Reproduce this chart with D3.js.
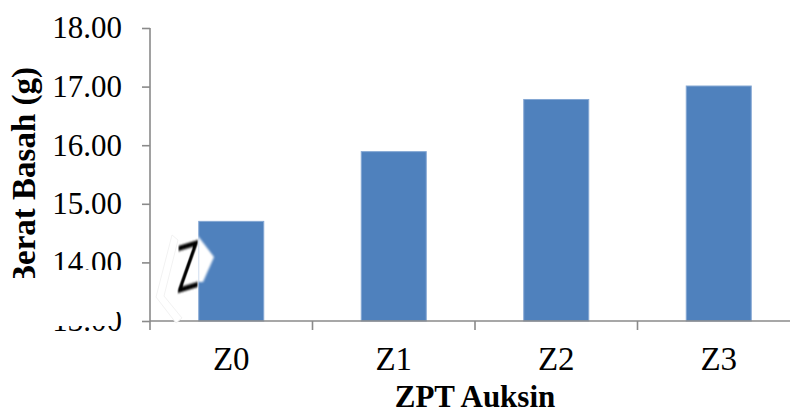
<!DOCTYPE html>
<html>
<head>
<meta charset="utf-8">
<script src="https://cdn.jsdelivr.net/npm/d3@7/dist/d3.min.js"></script>
<style>
  html, body { margin: 0; padding: 0; background: #fff; }
  svg { display: block; }
</style>
</head>
<body>
<svg id="chart" width="790" height="415"></svg>
<script>
// Fresh weight per auxin treatment
const categories = ["Z0", "Z1", "Z2", "Z3"];
const beratBasah = [14.70, 15.89, 16.78, 17.01];
const yTicks = [13, 14, 15, 16, 17, 18];
const yTitle = "Berat Basah (g)";
const xTitle = "ZPT Auksin";

const svg = d3.select("#chart");
const serif = "'Liberation Serif', 'Times New Roman', serif";
const axisColor = "#8a8a8a";

const plot = { left: 150, right: 800, top: 28, bottom: 321 };

const x = d3.scaleBand()
  .domain(categories)
  .range([plot.left, plot.right])
  .paddingInner(0.6)
  .paddingOuter(0.3);

const y = d3.scaleLinear()
  .domain([13, 18])
  .range([plot.bottom, plot.top]);

// bars
svg.append("g").selectAll("rect")
  .data(categories.map((c, i) => ({ c, v: beratBasah[i] })))
  .join("rect")
  .attr("x", d => x(d.c))
  .attr("y", d => y(d.v))
  .attr("width", x.bandwidth())
  .attr("height", d => y(13) - y(d.v))
  .attr("fill", "#4f81bd")
  .attr("stroke", "#84a7d3")
  .attr("stroke-width", 1);

// y axis
const yAxis = d3.axisLeft(y)
  .tickValues(yTicks)
  .tickFormat(d3.format(".2f"))
  .tickSize(8)
  .tickPadding(20);

const gy = svg.append("g")
  .attr("transform", `translate(${plot.left},0)`)
  .call(yAxis);
gy.select(".domain").remove();
gy.selectAll(".tick line").attr("stroke", axisColor).attr("stroke-width", 1.6);
gy.selectAll(".tick text")
  .attr("font-family", serif)
  .attr("font-size", 31)
  .attr("fill", "#000");
gy.append("line")
  .attr("x1", 0).attr("x2", 0)
  .attr("y1", y(18)).attr("y2", plot.bottom + 9)
  .attr("stroke", axisColor).attr("stroke-width", 1.6);

// x axis: line, boundary ticks and category labels
const gx = svg.append("g");
gx.append("line")
  .attr("x1", plot.left).attr("x2", plot.right)
  .attr("y1", plot.bottom).attr("y2", plot.bottom)
  .attr("stroke", axisColor).attr("stroke-width", 1.6);
const step = x.step();
gx.selectAll("line.bound")
  .data(categories.map((c, i) => i + 1))
  .join("line")
  .attr("class", "bound")
  .attr("x1", i => plot.left + i * step)
  .attr("x2", i => plot.left + i * step)
  .attr("y1", plot.bottom).attr("y2", plot.bottom + 9)
  .attr("stroke", axisColor).attr("stroke-width", 1.6);
gx.selectAll("text")
  .data(categories)
  .join("text")
  .attr("x", d => x(d) + x.bandwidth() / 2)
  .attr("y", 370)
  .attr("text-anchor", "middle")
  .attr("font-family", serif)
  .attr("font-size", 33)
  .text(d => d);

// titles: the vertical one starts near y = 287 and runs upward
svg.append("text")
  .attr("transform", "translate(35,287) rotate(-90)")
  .attr("text-anchor", "start")
  .attr("font-family", serif)
  .attr("font-weight", "bold")
  .attr("font-size", 33)
  .text(yTitle);

svg.append("text")
  .attr("x", (plot.left + plot.right) / 2)
  .attr("y", 407)
  .attr("text-anchor", "middle")
  .attr("font-family", serif)
  .attr("font-weight", "bold")
  .attr("font-size", 31)
  .text(xTitle);

// pasted-over patch near the base of the first bar
const defs = svg.append("defs");
defs.append("filter").attr("id", "soft")
  .append("feGaussianBlur").attr("stdDeviation", 1.0);

const patch = svg.append("g");
patch.append("rect").attr("x", 8).attr("y", 278).attr("width", 42).attr("height", 14).attr("fill", "#fff");
patch.append("rect").attr("x", 38).attr("y", 292).attr("width", 75).attr("height", 34).attr("fill", "#fff");
patch.append("rect").attr("x", 113).attr("y", 292).attr("width", 12).attr("height", 20).attr("fill", "#fff");
patch.append("rect").attr("x", 38).attr("y", 270).attr("width", 90).attr("height", 6).attr("fill", "#fff");
patch.append("polygon")
  .attr("points", "172,235 156,297 176,323 182,318 164,296 178,240")
  .attr("fill", "#fff").attr("stroke", "#f2f2f2").attr("stroke-width", 1);
patch.append("polygon")
  .attr("points", "198,236 214,257 203,282 198,282")
  .attr("fill", "#fff").attr("filter", "url(#soft)");
patch.append("text")
  .attr("transform", "translate(188,264) skewY(-17) scale(0.55,1)")
  .attr("text-anchor", "middle")
  .attr("dominant-baseline", "central")
  .attr("font-family", "Lato, 'DejaVu Sans', sans-serif")
  .attr("font-weight", 400)
  .attr("font-size", 66)
  .attr("fill", "#000")
  .attr("filter", "url(#soft)")
  .text("Z");
</script>
</body>
</html>
